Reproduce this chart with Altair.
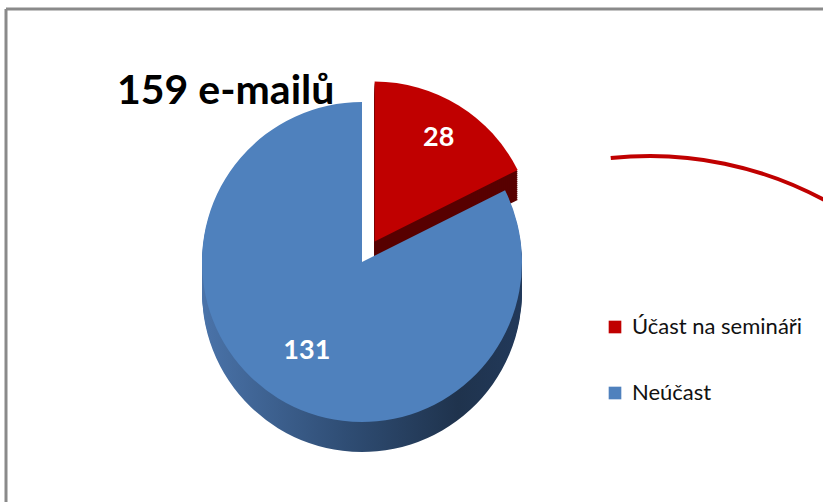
import math
import altair as alt
import pandas as pd

# ---- data ----
categories = ["Účast na semináři", "Neúčast"]
values = [28, 131]
top_colors = ["#c00000", "#4f81bd"]
side_colors = ["#580000", "#2c4a70"]
unit = "e-mailů"

total = sum(values)
title_text = f"{total} {unit}"

df = pd.DataFrame({"category": categories, "value": values, "order": list(range(len(values)))})

# ---- layout ----
W, H = 823, 502
cx, cy, R, D = 362, 262, 160, 30
explode = 24
FONT = "Lato, Carlito, Noto Sans"

base = alt.Chart(df).transform_window(
    cum="sum(value)", sort=[alt.SortField("order")], frame=[None, 0]
).transform_calculate(
    start="datum.cum - datum.value", mid="datum.cum - datum.value / 2"
)

theta_scale = alt.Scale(domain=[0, total], range=[0, 2 * math.pi])
color_scale = alt.Scale(domain=categories, range=top_colors)

# explode direction of first slice (bisector angle)
mid0 = (values[0] / 2) / total * 2 * math.pi
ex, ey = explode * math.sin(mid0), -explode * math.cos(mid0)

blue_side = alt.LinearGradient(
    gradient="linear", x1=0, x2=1, y1=0, y2=0,
    stops=[alt.GradientStop(color="#4a73a9", offset=0),
           alt.GradientStop(color="#2f4d74", offset=0.45),
           alt.GradientStop(color="#1f334d", offset=0.8),
           alt.GradientStop(color="#22395a", offset=1)],
)


def slice_chart(cat, x, y, fill=None, legend=False):
    ch = base.transform_filter(alt.datum.category == cat)
    if fill is not None:
        m = ch.mark_arc(outerRadius=R, fill=fill, strokeWidth=0)
        enc = dict()
    else:
        m = ch.mark_arc(outerRadius=R, strokeWidth=0)
        enc = dict(color=alt.Color(
            "category:N", scale=color_scale,
            legend=alt.Legend(
                orient="none", legendX=604, legendY=316, title=None,
                symbolType="square", symbolSize=160, symbolStrokeWidth=0,
                labelFontSize=22, labelFont=FONT, labelColor="#111111",
                rowPadding=44, labelLimit=0, labelOffset=6,
            ) if legend else None))
    return m.encode(
        theta=alt.Theta("start:Q", stack=None, scale=theta_scale),
        theta2="cum:Q",
        x=alt.value(x), y=alt.value(y),
        **enc,
    )


layers = []

# frame of the slide
frame_df = pd.DataFrame({"a": [0]})
layers.append(alt.Chart(frame_df).mark_rule(color="#8a8a8a", strokeWidth=3).encode(
    x=alt.value(6), x2=alt.value(W), y=alt.value(9)))
layers.append(alt.Chart(frame_df).mark_rule(color="#8a8a8a", strokeWidth=3).encode(
    x=alt.value(6), y=alt.value(9), y2=alt.value(H)))

# red decorative curve
layers.append(alt.Chart(frame_df).mark_arc(
    innerRadius=365, outerRadius=369, theta=6.176, theta2=6.80, color="#c00000"
).encode(x=alt.value(650), y=alt.value(523)))

rx, ry = cx + ex, cy + ey
# red slice: side then top
for d in range(D, 0, -2):
    layers.append(slice_chart(categories[0], rx, ry + d, fill=side_colors[0]))
layers.append(slice_chart(categories[0], rx, ry, legend=True))

# blue slice: side then top
for d in range(D, 0, -2):
    layers.append(slice_chart(categories[1], cx, cy + d, fill=blue_side))
layers.append(slice_chart(categories[1], cx, cy, legend=True))

# value labels
for cat, (x, y), rr in [(categories[0], (rx, ry), 122), (categories[1], (cx, cy), 105)]:
    layers.append(base.transform_filter(alt.datum.category == cat).mark_text(
        radius=rr, color="white", fontSize=27, fontWeight="bold", font=FONT
    ).encode(
        theta=alt.Theta("mid:Q", stack=None, scale=theta_scale),
        text="value:Q", x=alt.value(x), y=alt.value(y)))

# title
layers.append(alt.Chart(pd.DataFrame({"t": [title_text]})).mark_text(
    align="left", baseline="middle", fontSize=41, fontWeight="bold", font=FONT, color="#000000"
).encode(text="t:N", x=alt.value(117), y=alt.value(92)))

chart = alt.layer(*layers).properties(
    width=W, height=H, padding=0, autosize="none", background="white"
).configure_view(stroke=None)

chart.save("out.html", embed_options={"renderer": "svg", "actions": False})
